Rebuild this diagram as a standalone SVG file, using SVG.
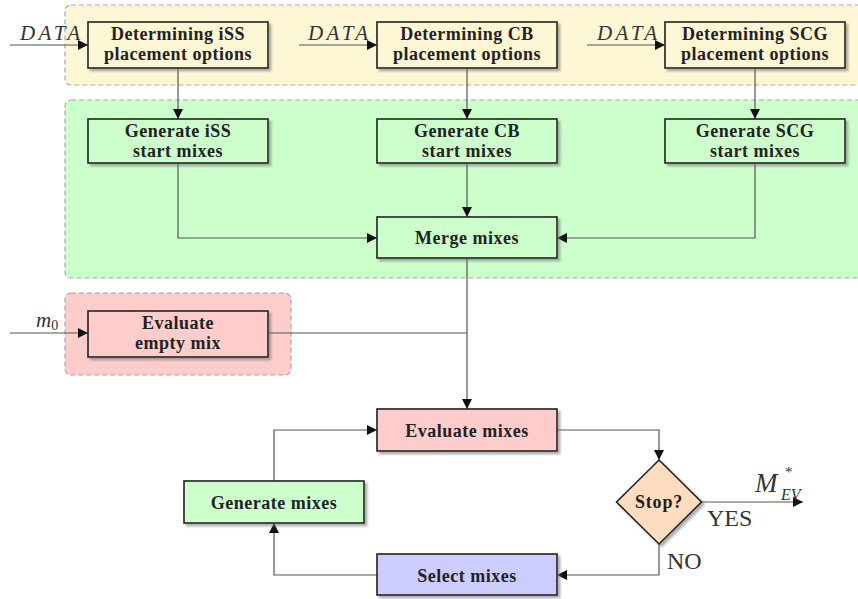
<svg xmlns="http://www.w3.org/2000/svg" width="858" height="599" viewBox="0 0 858 599">
  <defs>
    <style>
      .grp { stroke: #a8a8a8; stroke-width: 1.2; stroke-dasharray: 5 3; }
      .box { stroke: #222; stroke-width: 1.6; filter: url(#shadow); }
      .lbl { font-family: "Liberation Serif", "DejaVu Serif", serif; font-weight: bold; font-size: 18px; letter-spacing: 0.5px; fill: #222; text-anchor: middle; }
      .math { font-family: "Liberation Serif", "DejaVu Serif", serif; font-style: italic; font-size: 21px; fill: #333; }
      .plain { font-family: "Liberation Serif", "DejaVu Serif", serif; font-size: 24px; fill: #333; }
      .conn { fill: none; stroke: #555; stroke-width: 1.2; }
      .yel { fill: #fef7d6; }
      .grn { fill: #ccffcc; }
      .red { fill: #ffcccc; }
      .blu { fill: #ccccff; }
      .org { fill: #fddcbf; }
    </style>
    <filter id="shadow" x="-10%" y="-10%" width="130%" height="140%">
      <feDropShadow dx="2.5" dy="2.5" stdDeviation="1.2" flood-color="#777" flood-opacity="0.6"/>
    </filter>
    <marker id="arr" viewBox="0 0 10 10" refX="10" refY="5" markerWidth="10" markerHeight="10" markerUnits="userSpaceOnUse" orient="auto">
      <path d="M0,0 L10,5 L0,10 z" fill="#111"/>
    </marker>
  </defs>

  <!-- background groups -->
  <g id="stage-placement">
    <rect class="grp yel" x="65" y="5" width="805" height="80" rx="6"/>
  </g>
  <g id="stage-start">
    <rect class="grp grn" x="65" y="100" width="805" height="178" rx="6"/>
  </g>
  <g id="stage-empty">
    <rect class="grp red" x="65" y="293" width="226" height="82" rx="6"/>
  </g>

  <!-- connectors -->
  <g id="connectors">
    <path class="conn" d="M10,45 H88" marker-end="url(#arr)"/>
    <path class="conn" d="M299,45 H377" marker-end="url(#arr)"/>
    <path class="conn" d="M587,45 H665" marker-end="url(#arr)"/>
    <path class="conn" d="M178,68 V119" marker-end="url(#arr)"/>
    <path class="conn" d="M467,68 V119" marker-end="url(#arr)"/>
    <path class="conn" d="M755,68 V119" marker-end="url(#arr)"/>
    <path class="conn" d="M178,163 V238 H377" marker-end="url(#arr)"/>
    <path class="conn" d="M467,163 V217" marker-end="url(#arr)"/>
    <path class="conn" d="M755,163 V238 H557" marker-end="url(#arr)"/>
    <path class="conn" d="M467,258 V409" marker-end="url(#arr)"/>
    <path class="conn" d="M10,333 H88" marker-end="url(#arr)"/>
    <path class="conn" d="M268,333 H467"/>
    <path class="conn" d="M557,430 H659 V460" marker-end="url(#arr)"/>
    <path class="conn" d="M701,502 H803" marker-end="url(#arr)"/>
    <path class="conn" d="M659,544 V575 H557" marker-end="url(#arr)"/>
    <path class="conn" d="M377,575 H274 V523" marker-end="url(#arr)"/>
    <path class="conn" d="M274,481 V430 H377" marker-end="url(#arr)"/>
  </g>

  <!-- connector labels -->
  <g id="edge-labels">
    <text class="math" x="20" y="40" textLength="60" lengthAdjust="spacing">DATA</text>
    <text class="math" x="308" y="40" textLength="60" lengthAdjust="spacing">DATA</text>
    <text class="math" x="597" y="40" textLength="60" lengthAdjust="spacing">DATA</text>
    <text class="math" x="36" y="327">m<tspan style="font-style:normal;font-size:14px" dy="3">0</tspan></text>
    <text class="math" x="755" y="492" style="font-size:27px">M</text>
    <text class="math" x="785" y="477" style="font-size:15px;font-style:normal">*</text>
    <text class="math" x="781" y="500" style="font-size:16px">EV</text>
    <text class="plain" x="707" y="526">YES</text>
    <text class="plain" x="667" y="569">NO</text>
  </g>

  <!-- nodes -->
  <g id="det-iss">
    <rect class="box yel" x="88" y="22" width="180" height="46"/>
    <text class="lbl" x="178" y="40">Determining iSS</text>
    <text class="lbl" x="178" y="60">placement options</text>
  </g>
  <g id="det-cb">
    <rect class="box yel" x="377" y="22" width="180" height="46"/>
    <text class="lbl" x="467" y="40">Determining CB</text>
    <text class="lbl" x="467" y="60">placement options</text>
  </g>
  <g id="det-scg">
    <rect class="box yel" x="665" y="22" width="180" height="46"/>
    <text class="lbl" x="755" y="40">Determining SCG</text>
    <text class="lbl" x="755" y="60">placement options</text>
  </g>

  <g id="gen-iss">
    <rect class="box grn" x="88" y="119" width="180" height="44"/>
    <text class="lbl" x="178" y="137">Generate iSS</text>
    <text class="lbl" x="178" y="157">start mixes</text>
  </g>
  <g id="gen-cb">
    <rect class="box grn" x="377" y="119" width="180" height="44"/>
    <text class="lbl" x="467" y="137">Generate CB</text>
    <text class="lbl" x="467" y="157">start mixes</text>
  </g>
  <g id="gen-scg">
    <rect class="box grn" x="665" y="119" width="180" height="44"/>
    <text class="lbl" x="755" y="137">Generate SCG</text>
    <text class="lbl" x="755" y="157">start mixes</text>
  </g>

  <g id="merge">
    <rect class="box grn" x="377" y="217" width="180" height="41"/>
    <text class="lbl" x="467" y="244">Merge mixes</text>
  </g>

  <g id="eval-empty">
    <rect class="box red" x="88" y="311" width="180" height="46"/>
    <text class="lbl" x="178" y="329">Evaluate</text>
    <text class="lbl" x="178" y="349">empty mix</text>
  </g>

  <g id="eval-mixes">
    <rect class="box red" x="377" y="409" width="180" height="42"/>
    <text class="lbl" x="467" y="437">Evaluate mixes</text>
  </g>

  <g id="gen-mixes">
    <rect class="box grn" x="184" y="481" width="180" height="42"/>
    <text class="lbl" x="274" y="509">Generate mixes</text>
  </g>

  <g id="select-mixes">
    <rect class="box blu" x="377" y="554" width="180" height="41"/>
    <text class="lbl" x="467" y="582">Select mixes</text>
  </g>

  <g id="stop">
    <path class="box org" d="M659,460 L701.5,502 L659,544 L616.5,502 Z"/>
    <text class="lbl" x="659" y="508" style="font-size:18px;letter-spacing:0.8px">Stop?</text>
  </g>
</svg>
